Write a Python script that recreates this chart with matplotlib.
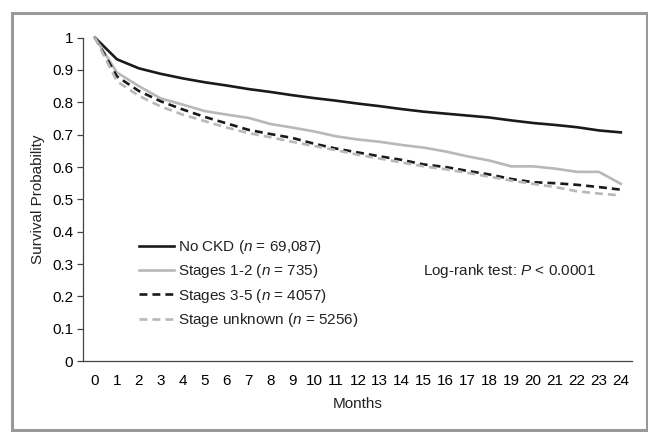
import matplotlib.pyplot as plt
import matplotlib.patches as patches
import numpy as np

plt.rcParams['font.family'] = ['Liberation Sans', 'DejaVu Sans']
plt.rcParams['mathtext.fontset'] = 'custom'
plt.rcParams['mathtext.rm'] = 'Liberation Sans'
plt.rcParams['mathtext.it'] = 'Liberation Sans:italic'

months = list(range(25))

no_ckd = [1.0, 0.933, 0.905, 0.888, 0.874, 0.862, 0.852, 0.841, 0.832, 0.822,
          0.813, 0.805, 0.796, 0.788, 0.779, 0.771, 0.765, 0.759, 0.753, 0.744,
          0.736, 0.730, 0.723, 0.713, 0.707]
stages_12 = [1.0, 0.892, 0.850, 0.812, 0.793, 0.773, 0.762, 0.752, 0.733, 0.722,
             0.710, 0.695, 0.685, 0.678, 0.668, 0.660, 0.648, 0.633, 0.620, 0.602,
             0.602, 0.595, 0.585, 0.585, 0.548]
stages_35 = [1.0, 0.880, 0.835, 0.803, 0.778, 0.755, 0.735, 0.715, 0.702, 0.690,
             0.672, 0.657, 0.645, 0.633, 0.622, 0.608, 0.600, 0.588, 0.577, 0.563,
             0.553, 0.550, 0.545, 0.538, 0.530]
stage_unknown = [1.0, 0.865, 0.820, 0.787, 0.762, 0.742, 0.722, 0.705, 0.692, 0.678,
                 0.665, 0.652, 0.638, 0.626, 0.614, 0.602, 0.593, 0.582, 0.570, 0.558,
                 0.548, 0.538, 0.525, 0.518, 0.512]

labels = [r"No CKD ($\it{n}$ = 69,087)",
          r"Stages 1-2 ($\it{n}$ = 735)",
          r"Stages 3-5 ($\it{n}$ = 4057)",
          r"Stage unknown ($\it{n}$ = 5256)"]

dark = "#1a1a1a"
light = "#b8b8b8"
fs = 11

fig = plt.figure(figsize=(6.48, 4.32), dpi=100)
ax = fig.add_axes([0.128, 0.164, 0.847, 0.749])

lw = 1.9
dash = (0, (3, 1.9))
ax.plot(months, no_ckd, color=dark, lw=lw, label=labels[0], clip_on=False)
ax.plot(months, stages_12, color=light, lw=lw, label=labels[1], clip_on=False)
ax.plot(months, stages_35, color=dark, lw=lw, ls=dash, label=labels[2], clip_on=False)
ax.plot(months, stage_unknown, color=light, lw=lw, ls=dash, label=labels[3], clip_on=False)

ax.set_xlim(-0.55, 24.5)
ax.set_ylim(0, 1)
ax.set_xticks(months)
ax.set_yticks(np.arange(0, 1.01, 0.1))
ax.set_yticklabels(["0", "0.1", "0.2", "0.3", "0.4", "0.5", "0.6", "0.7", "0.8", "0.9", "1"])

for s in ["top", "right"]:
    ax.spines[s].set_visible(False)
for s in ["left", "bottom"]:
    ax.spines[s].set_color("#444444")
    ax.spines[s].set_linewidth(0.9)

ax.tick_params(axis="y", length=4, width=0.9, color="#444444", labelsize=fs, pad=3)
ax.tick_params(axis="x", length=0, labelsize=fs, pad=9)

ax.set_xlabel("Months", fontsize=fs, labelpad=7, color="#222222")
ax.set_ylabel("Survival Probability", fontsize=fs, labelpad=5, color="#222222")

leg = ax.legend(loc="upper left", bbox_to_anchor=(0.1016, 0.381), frameon=False,
                fontsize=fs, handlelength=2.3, handletextpad=0.3,
                labelspacing=0.42, borderpad=0, borderaxespad=0)
for t in leg.get_texts():
    t.set_color("#222222")

ax.text(14.98, 0.278, r"Log-rank test: $\it{P}$ < 0.0001", fontsize=fs,
        va="center", ha="left", color="#222222")

border = patches.Rectangle((12 / 648, 2 / 432), 635 / 648, 417 / 432,
                           transform=fig.transFigure, fill=False,
                           edgecolor="#999999", lw=2.2)
fig.patches.append(border)

fig.savefig("out.png", dpi=100)
